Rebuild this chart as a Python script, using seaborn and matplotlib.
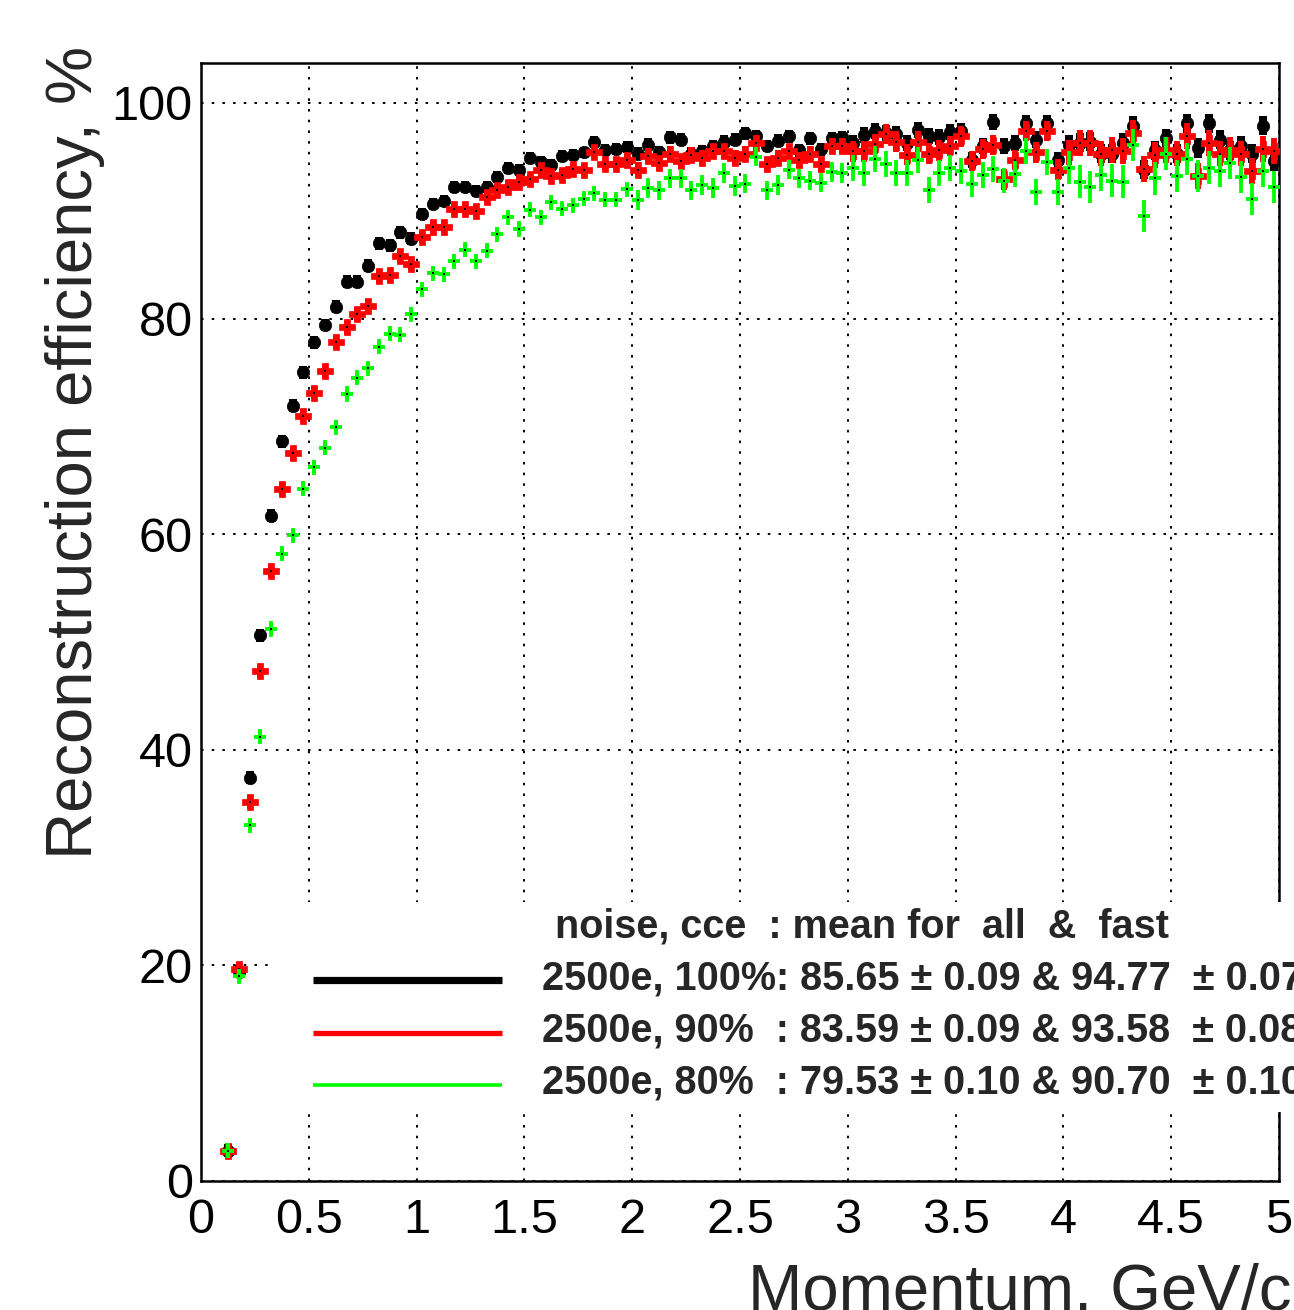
import numpy as np
import pandas as pd
import matplotlib
matplotlib.use("Agg")
import matplotlib.pyplot as plt
from matplotlib.lines import Line2D
from matplotlib.patches import Rectangle
import seaborn as sns

# momentum bins (GeV/c), 0.05 wide, first filled bin centred at 0.125
p_bins = np.round(np.arange(0.125, 5.0, 0.05), 3)

# reconstruction efficiency (%) for the three charge-collection settings
eff_100 = [2.8, 19.4, 37.4, 50.6, 61.7, 68.6, 71.9, 75.0, 77.8, 79.4, 81.1, 83.4, 83.4, 84.9, 87.0, 86.8, 88.0, 87.4,
           89.7, 90.6, 90.9, 92.2, 92.2, 91.8, 92.2, 93.1, 94.0, 93.8, 94.9, 94.5, 94.2, 95.1, 95.2, 95.4, 96.4, 95.6, 95.7, 95.9,
           95.3, 96.1, 95.4, 96.8, 96.6, 95.3, 95.5, 96.0, 96.4, 96.6, 97.2, 96.9, 96.0, 96.5, 96.9, 95.6, 96.7, 95.7, 96.7, 96.8,
           96.3, 97.0, 97.4, 97.2, 97.1, 96.3, 97.5, 96.9, 96.8, 97.3, 97.4, 94.7, 96.0, 98.2, 96.0, 96.3, 98.1, 96.6, 98.1, 94.7,
           96.1, 96.3, 96.4, 95.3, 95.3, 96.3, 97.9, 93.8, 95.6, 96.7, 95.3, 98.1, 95.8, 98.1, 96.6, 95.6, 96.0, 95.3, 97.9, 94.6]
eff_90 = [2.8, 19.7, 35.2, 47.3, 56.6, 64.2, 67.5, 71.0, 73.1, 75.1, 77.8, 79.2, 80.4, 81.2, 83.9, 84.0, 85.8, 85.1,
          87.6, 88.5, 88.5, 90.2, 90.2, 90.0, 91.3, 91.9, 92.2, 92.7, 92.9, 93.8, 93.2, 93.3, 93.9, 93.8, 95.4, 94.3, 94.3, 94.7,
          93.8, 95.1, 94.4, 95.3, 94.6, 95.2, 94.9, 95.5, 95.5, 94.9, 95.3, 96.3, 94.3, 94.9, 95.5, 94.7, 95.3, 94.3, 96.0, 96.0,
          95.5, 95.5, 96.2, 97.1, 96.4, 95.2, 96.4, 95.3, 95.6, 96.0, 96.9, 94.6, 95.7, 96.1, 92.9, 94.7, 97.4, 95.4, 97.4, 93.8,
          95.4, 96.3, 96.3, 95.3, 95.6, 95.5, 97.2, 93.9, 95.2, 95.6, 95.3, 96.9, 93.2, 96.3, 95.3, 95.6, 95.3, 93.7, 95.7, 95.5]
eff_80 = [2.8, 19.0, 33.0, 41.2, 51.2, 58.2, 59.9, 64.2, 66.2, 68.0, 69.9, 73.0, 74.5, 75.4, 77.4, 78.6, 78.5, 80.4,
          82.7, 84.2, 84.1, 85.3, 86.4, 85.3, 86.3, 87.8, 89.4, 88.3, 90.1, 89.4, 90.8, 90.2, 90.5, 91.1, 91.6, 91.0, 91.0, 92.0,
          91.0, 92.1, 91.9, 93.0, 93.0, 91.9, 92.4, 92.1, 93.5, 92.3, 92.5, 95.0, 91.9, 92.4, 93.8, 93.0, 92.8, 92.6, 93.6, 93.5,
          94.0, 93.5, 94.8, 94.3, 93.5, 93.5, 94.7, 91.9, 93.5, 94.0, 93.7, 92.5, 93.3, 93.9, 92.8, 93.4, 95.5, 91.7, 94.5, 91.7,
          94.0, 92.7, 92.2, 93.3, 92.8, 92.7, 96.1, 89.5, 93.0, 95.3, 93.2, 94.8, 93.2, 94.0, 93.7, 94.4, 93.1, 91.1, 93.7, 92.2]

# statistical errors, read roughly per momentum range
err_100 = [0.6] * 18 + [0.55] * 20 + [0.6] * 20 + [0.75] * 20 + [0.9] * 20
err_90 = [0.6] * 18 + [0.55] * 20 + [0.7] * 20 + [0.95] * 20 + [1.2] * 20
err_80 = [0.7] * 18 + [0.7] * 20 + [0.9] * 20 + [1.2] * 20 + [1.5] * 20

series_names = ["100%", "90%", "80%"]
series_colors = ["#000000", "#ff0000", "#00ff00"]
legend_header = "noise, cce  : mean for  all  &  fast"
legend_rows = ["2500e, 100%: 85.65 \u00b1 0.09 & 94.77  \u00b1 0.07",
               "2500e, 90%  : 83.59 \u00b1 0.09 & 93.58  \u00b1 0.08",
               "2500e, 80%  : 79.53 \u00b1 0.10 & 90.70  \u00b1 0.10"]

frames = []
for name, eff, err in zip(series_names, [eff_100, eff_90, eff_80], [err_100, err_90, err_80]):
    frames.append(pd.DataFrame({"p": p_bins, "eff": eff, "err": err, "cce": name}))
df = pd.concat(frames, ignore_index=True)

sns.set_theme(style="white")
plt.rcParams["font.family"] = ["Liberation Sans", "DejaVu Sans"]

fig = plt.figure(figsize=(12.94, 13.10), dpi=100)
ax = fig.add_axes([201 / 1294, 129 / 1310, 1078 / 1294, 1118 / 1310])

# marker styles per series (ROOT-like: full circle, full cross, plus)
styles = {
    "100%": dict(marker="o", s=80, lw_err=5.8),
    "90%": dict(marker="P", s=130, lw_err=4.2),
    "80%": dict(marker="+", s=80, lw_err=2.7),
}

for i, (name, color) in enumerate(zip(series_names, series_colors)):
    d = df[df["cce"] == name]
    st = styles[name]
    ax.errorbar(d["p"], d["eff"], yerr=d["err"], fmt="none", ecolor=color,
                elinewidth=st["lw_err"], capsize=0, zorder=3 + i)
    if st["marker"] == "+":
        sns.scatterplot(data=d, x="p", y="eff", marker="+", s=st["s"], color=color,
                        linewidth=2.8, ax=ax, legend=False, zorder=3 + i)
    else:
        sns.scatterplot(data=d, x="p", y="eff", marker=st["marker"], s=st["s"], color=color,
                        edgecolor=color, linewidth=0.5, ax=ax, legend=False, zorder=3 + i)
    ax.scatter(d["p"], d["eff"], marker="s", s=2, color="black", linewidths=0, zorder=3.5 + i)

ax.set_xlim(0, 5)
ax.set_ylim(0, 103.7)
ax.set_xticks(np.arange(0, 5.01, 0.5))
ax.set_xticklabels(["0", "0.5", "1", "1.5", "2", "2.5", "3", "3.5", "4", "4.5", "5"])
ax.set_xticks(np.arange(0, 5.01, 0.1), minor=True)
ax.set_yticks([0, 20, 40, 60, 80, 100])
ax.set_yticks(np.arange(0, 101, 5), minor=True)
ax.set_xlabel("")
ax.set_ylabel("")

ax.grid(True, which="major", color="black", linestyle=(0, (1.3, 4.2)), linewidth=1.4)
ax.set_axisbelow(True)

ax.tick_params(axis="both", which="both", direction="in", top=False, right=False,
               colors="black", width=1.5, labelsize=35)
ax.tick_params(axis="x", which="major", length=22, pad=12)
ax.tick_params(axis="x", which="minor", length=11.5)
ax.tick_params(axis="y", which="major", length=25, pad=6)
ax.tick_params(axis="y", which="minor", length=13)
for sp in ax.spines.values():
    sp.set_color("black")
    sp.set_linewidth(1.8)

# axis titles, ROOT style (aligned to the end of the axis)
fig.text(1292 / 1294, 1 - 1309 / 1310, "Momentum, GeV/c", ha="right", va="baseline", fontsize=47)
fig.text(92 / 1294, 1 - 46 / 1310, "Reconstruction efficiency, %", rotation=90,
         rotation_mode="anchor", ha="right", va="baseline", fontsize=47)

# legend box (no border, runs off the right edge like the original)
fig.patches.append(Rectangle((272 / 1294, 1 - 1112 / 1310), 1.0, 210 / 1310,
                             transform=fig.transFigure, facecolor="white", edgecolor="none", zorder=5))
fig.text(555 / 1294, 1 - 926 / 1310, legend_header, ha="left", va="center",
         fontsize=28.5, fontweight="bold", zorder=7)
line_y = [980, 1033, 1085]
line_w = [5.2, 3.8, 2.6]
for row, color, yy, lw in zip(legend_rows, series_colors, line_y, line_w):
    fig.lines.append(Line2D([313 / 1294, 502 / 1294], [1 - yy / 1310] * 2, transform=fig.transFigure,
                            color=color, linewidth=lw, solid_capstyle="butt", zorder=6))
    fig.text(542 / 1294, 1 - (yy - 2) / 1310, row, ha="left", va="center",
             fontsize=28.5, fontweight="bold", zorder=7)

fig.savefig("out.png", dpi=100)
